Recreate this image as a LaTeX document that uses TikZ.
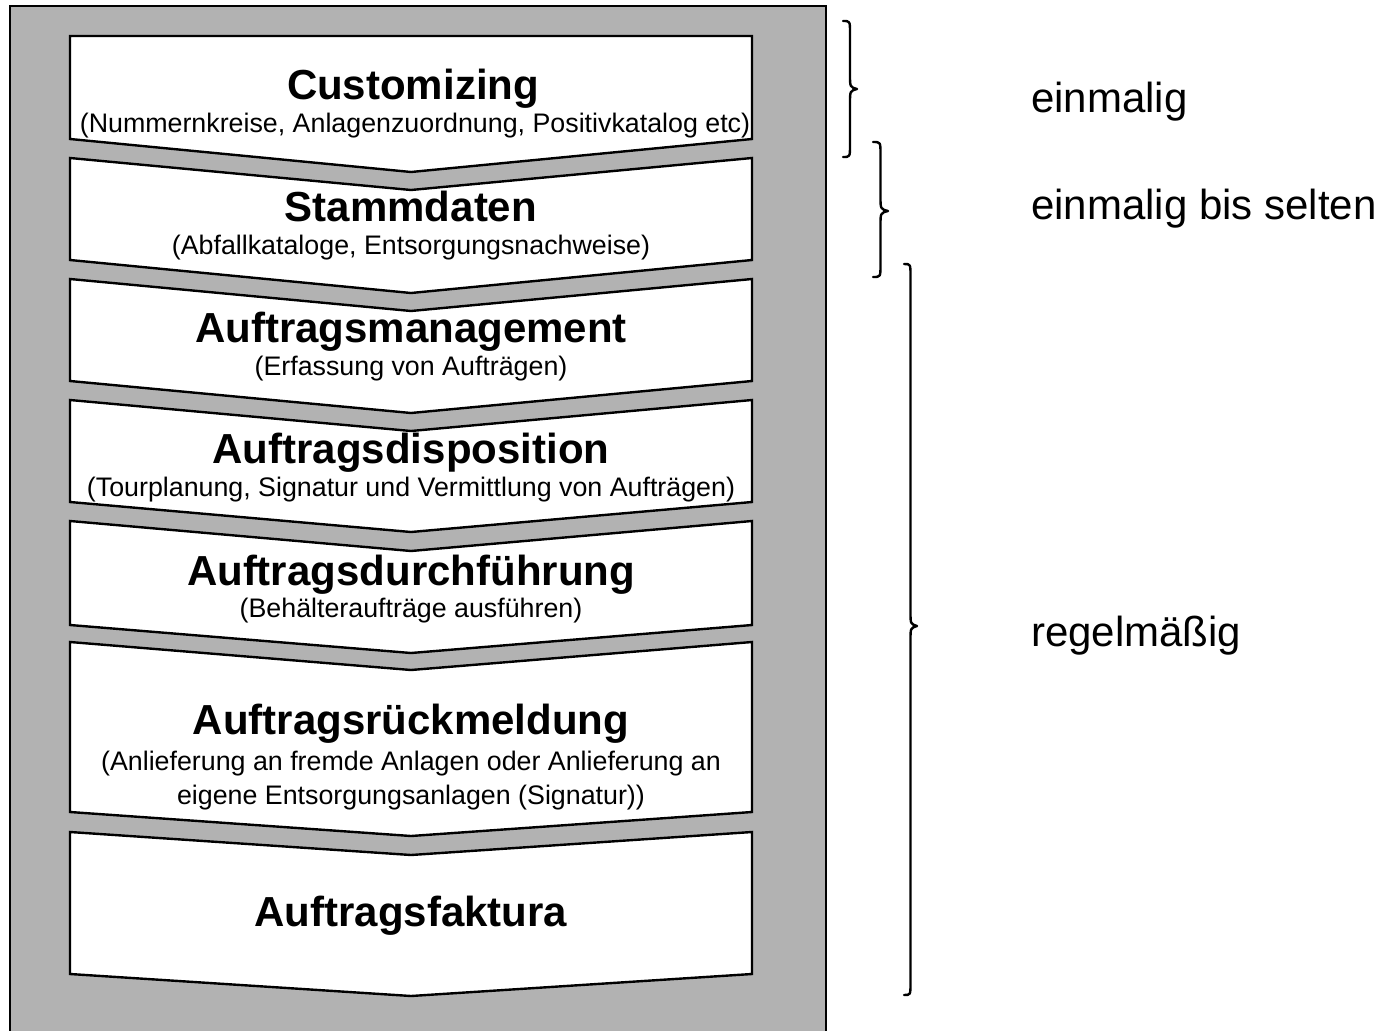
\documentclass[tikz,border=0pt]{standalone}
\usepackage{fontspec}
\setmainfont{Liberation Sans}
\definecolor{panelgray}{HTML}{B2B2B2}
\tikzset{
  chevbox/.style={draw=black, fill=white, line width=2.4pt, line join=miter},
  ttl/.style={anchor=base, inner sep=0pt, font=\fontsize{42}{48}\selectfont\bfseries},
  sub/.style={anchor=base, inner sep=0pt, font=\fontsize{26.8}{34}\selectfont},
  side/.style={anchor=base west, inner sep=0pt, font=\fontsize{42}{48}\selectfont},
  bracestyle/.style={draw=black, line width=2.4pt, line cap=round, line join=round},
}
% #1 top, #2 top notch depth, #3 bottom, #4 bottom tip depth
\newcommand{\chevshape}[4]{%
  \draw[chevbox] (70,#1) -- (411,#1+#2) -- (752,#1) -- (752,#3) -- (411,#3+#4) -- (70,#3) -- cycle;}
% #1 x of ends, #2 top y, #3 bottom y, #4 tip y, #5 width
\newcommand{\bracepath}[5]{%
  \draw[bracestyle] (#1,#2) .. controls (#1+0.5*#5,#2) .. (#1+0.5*#5,#2+12)
     -- (#1+0.5*#5,#4-14) .. controls (#1+0.5*#5,#4-2) .. (#1+#5,#4)
     .. controls (#1+0.5*#5,#4+2) .. (#1+0.5*#5,#4+14)
     -- (#1+0.5*#5,#3-12) .. controls (#1+0.5*#5,#3) .. (#1,#3);}
\begin{document}
\begin{tikzpicture}[x=1pt,y=-1pt]
\useasboundingbox (0,0) rectangle (1398,1031);
\begin{scope}
\clip (0,0) rectangle (1398,1031);
\draw[fill=panelgray, draw=black, line width=2.4pt] (10,6) rectangle (826,1045);
\end{scope}
\chevshape{36}{0}{139}{33}
\chevshape{158}{32}{260}{33}
\chevshape{279}{32}{381}{32}
\chevshape{400}{31}{502}{30}
\chevshape{521}{30}{625}{28}
\chevshape{642}{28}{812}{24}
\chevshape{832}{23}{974}{22}

\node[ttl] (t1) at (413,99) {Customizing};
\node[sub] (s1) at (415,132) {(Nummernkreise, Anlagenzuordnung, Positivkatalog etc)};
\node[ttl] (t2) at (411,221) {Stammdaten};
\node[sub] (s2) at (411,254) {(Abfallkataloge, Entsorgungsnachweise)};
\node[ttl] (t3) at (411,342) {Auftragsmanagement};
\node[sub] (s3) at (411,375) {(Erfassung von Aufträgen)};
\node[ttl] (t4) at (411,463) {Auftragsdisposition};
\node[sub] (s4) at (411,496) {(Tourplanung, Signatur und Vermittlung von Aufträgen)};
\node[ttl] (t5) at (411,585) {Auftragsdurchführung};
\node[sub] (s5) at (411,617) {(Behälteraufträge ausführen)};
\node[ttl] (t6) at (411,734) {Auftragsrückmeldung};
\node[sub] (s6a) at (411,770) {(Anlieferung an fremde Anlagen oder Anlieferung an};
\node[sub] (s6b) at (411,804) {eigene Entsorgungsanlagen (Signatur))};
\node[ttl] (t7) at (411,926) {Auftragsfaktura};

\bracepath{843}{21}{157}{89}{14}
\bracepath{873}{142}{277}{211}{15}
\bracepath{904}{264}{995}{626}{13}

\node[side] (r1) at (1031,112) {einmalig};
\node[side] (r2) at (1031,219) {einmalig bis selten};
\node[side] (r3) at (1031,646) {regelmäßig};
\end{tikzpicture}
\end{document}
